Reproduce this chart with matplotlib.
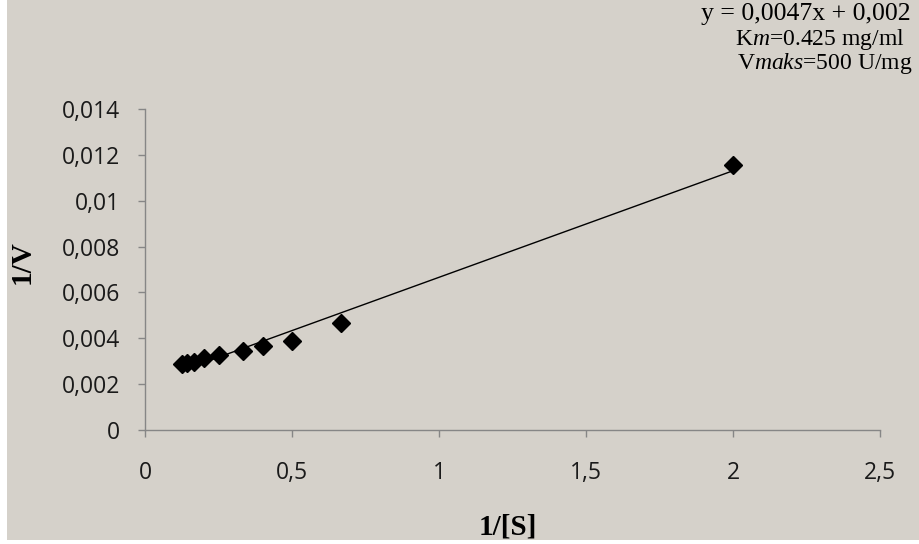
import numpy as np
import matplotlib.pyplot as plt
from matplotlib.patches import Rectangle

# data (Lineweaver-Burk)
inv_s = [0.125, 0.143, 0.167, 0.2, 0.25, 0.333, 0.4, 0.5, 0.667, 2.0]
inv_v = [0.00290, 0.00291, 0.00297, 0.00312, 0.00326, 0.00343, 0.00368, 0.00386, 0.00468, 0.01155]

x_ticks = [0, 0.5, 1, 1.5, 2, 2.5]
x_labels = ['0', '0,5', '1', '1,5', '2', '2,5']
y_ticks = [0, 0.002, 0.004, 0.006, 0.008, 0.01, 0.012, 0.014]
y_labels = ['0', '0,002', '0,004', '0,006', '0,008', '0,01', '0,012', '0,014']

bg = '#d5d1ca'
axis_col = '#868686'

plt.rcParams['mathtext.fontset'] = 'custom'
plt.rcParams['mathtext.rm'] = 'Liberation Serif'
plt.rcParams['mathtext.it'] = 'Liberation Serif:italic'

fig = plt.figure(figsize=(9.2, 5.44), dpi=100, facecolor='white')
fig.patches.append(Rectangle((7 / 920, 4 / 544), 1, 1, transform=fig.transFigure,
                             facecolor=bg, edgecolor='none', zorder=-1))

ax = fig.add_axes([145 / 920, (544 - 430) / 544, (880 - 145) / 920, (430 - 109) / 544])
ax.set_facecolor('none')
ax.set_zorder(2)

# trendline (least squares)
k, b = np.polyfit(inv_s, inv_v, 1)
xs = np.array([min(inv_s), max(inv_s)])
ax.plot(xs, k * xs + b, color='black', lw=1)
ax.plot(inv_s, inv_v, 'D', color='black', markersize=9.5, clip_on=False)

ax.set_xlim(0, 2.5)
ax.set_ylim(0, 0.014)
ax.set_xticks(x_ticks)
ax.set_xticklabels(x_labels)
ax.set_yticks(y_ticks)
ax.set_yticklabels(y_labels)

for s in ['top', 'right']:
    ax.spines[s].set_visible(False)
for s in ['left', 'bottom']:
    ax.spines[s].set_color(axis_col)
    ax.spines[s].set_linewidth(1)
ax.tick_params(colors=axis_col, length=5, width=1, labelcolor='#1a1a1a',
               labelsize=16.5)
ax.tick_params(axis='x', pad=17)
ax.tick_params(axis='y', pad=13)
for lab in ax.get_xticklabels() + ax.get_yticklabels():
    lab.set_family('Open Sans')

fig.text(22 / 920, 1 - 262 / 544, '1/V', rotation=90, ha='center', va='center',
         family='Liberation Serif', weight='bold', fontsize=21)
fig.text(508 / 920, 1 - 527 / 544, '1/[S]', ha='center', va='center',
         family='Liberation Serif', weight='bold', fontsize=21)

txt = dict(family='Liberation Serif', ha='center', va='center')
fig.text(806 / 920, 1 - 14 / 544, 'y = 0,0047x + 0,002', fontsize=18.5, **txt)
fig.text(820 / 920, 1 - 39 / 544, r'K$\mathit{m}$=0.425 mg/ml', fontsize=17, **txt)
fig.text(825 / 920, 1 - 63 / 544, r'V$\mathit{maks}$=500 U/mg', fontsize=17, **txt)

fig.savefig('out.png', dpi=100, facecolor='white')
